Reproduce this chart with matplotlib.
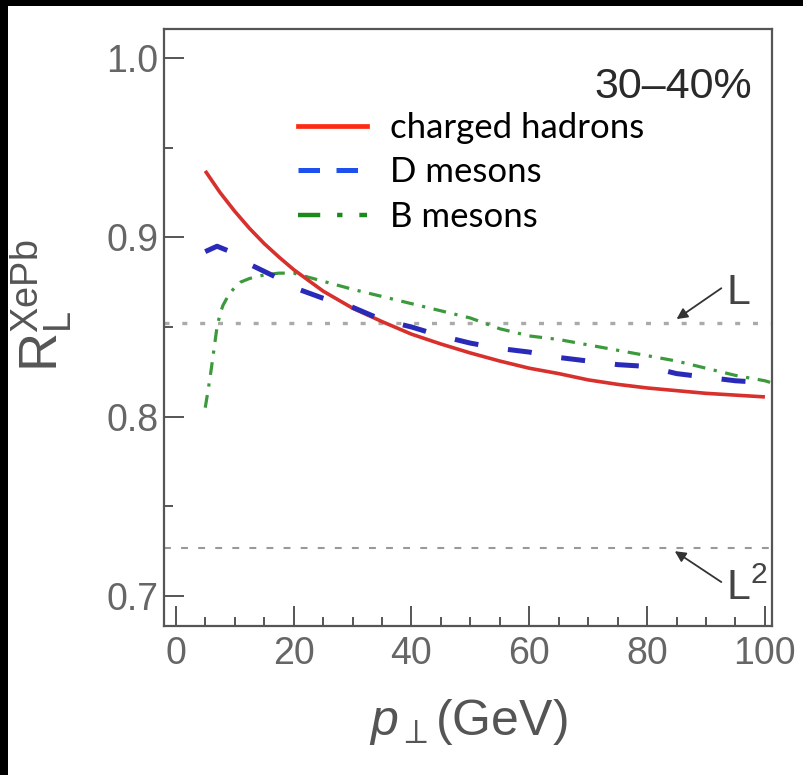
import matplotlib
matplotlib.use("Agg")
import matplotlib.pyplot as plt
from matplotlib.patches import Rectangle
from matplotlib.lines import Line2D

plt.rcParams['font.family'] = ['Liberation Sans', 'DejaVu Sans']
plt.rcParams['mathtext.fontset'] = 'custom'
plt.rcParams['mathtext.rm'] = 'Liberation Sans'
plt.rcParams['mathtext.it'] = 'Liberation Sans:italic'
plt.rcParams['mathtext.bf'] = 'Liberation Sans:bold'

# ---------------- data ----------------
pt_grid = [5, 7.5, 10, 12.5, 15, 17.5, 20, 25, 30, 35, 40, 45, 50, 55, 60,
           65, 70, 75, 80, 85, 90, 95, 100]
r_charged = [0.937, 0.925, 0.9145, 0.905, 0.8965, 0.889, 0.882, 0.870,
             0.8605, 0.853, 0.846, 0.8405, 0.8355, 0.831, 0.827, 0.824,
             0.8205, 0.818, 0.816, 0.8145, 0.813, 0.812, 0.811]

pt_d = [5, 7, 10, 12.5, 15, 17.5, 20, 25, 30, 35, 40, 45, 50, 55, 60, 65,
        70, 75, 80, 85, 90, 95, 100, 101]
r_d = [0.892, 0.895, 0.891, 0.885, 0.881, 0.877, 0.872, 0.866, 0.861, 0.854,
       0.850, 0.845, 0.841, 0.838, 0.836, 0.833, 0.831, 0.829, 0.828, 0.824,
       0.822, 0.820, 0.819, 0.819]

pt_b = [5, 5.5, 6, 6.5, 7, 7.5, 8, 9, 10, 11, 12.5, 15, 17.5, 20, 25, 30, 35,
        40, 45, 50, 55, 60, 65, 70, 75, 80, 85, 90, 95, 100, 101]
r_b = [0.805, 0.815, 0.826, 0.838, 0.850, 0.857, 0.862, 0.868, 0.872, 0.875,
       0.877, 0.879, 0.880, 0.880, 0.8755, 0.871, 0.867, 0.863, 0.859, 0.855,
       0.849, 0.845, 0.843, 0.840, 0.837, 0.834, 0.831, 0.827, 0.823, 0.820,
       0.819]

level_L = 0.852
level_L2 = 0.727

series_labels = ['charged hadrons', 'D mesons', 'B mesons']
centrality = '30–40%'
x_major = [0, 20, 40, 60, 80, 100]
x_minor = [5, 10, 15, 25, 30, 35, 45, 50, 55, 65, 70, 75, 85, 90, 95]
y_major = [0.7, 0.8, 0.9, 1.0]
y_minor = [0.75, 0.85, 0.95]

# ---------------- figure ----------------
W, H = 804, 775
fig = plt.figure(figsize=(W / 100, H / 100), dpi=100, facecolor='black')
fig.add_artist(Rectangle((8 / W, 0), 1, 1 - 6 / H, transform=fig.transFigure,
                         facecolor='white', edgecolor='none', zorder=-5))

ax = fig.add_axes([164 / W, 1 - 626 / H, (772 - 164) / W, (626 - 29) / H])
ax.set_xlim(-2, 101.2)
ax.set_ylim(0.6833, 1.0161)

gray = '#555555'
for s in ax.spines.values():
    s.set_color(gray)
    s.set_linewidth(1.6)

ax.set_xticks(x_major)
ax.set_xticks(x_minor, minor=True)
ax.set_yticks(y_major)
ax.set_yticks(y_minor, minor=True)
ax.set_xticklabels([str(v) for v in x_major])
ax.set_yticklabels(['%.1f' % v for v in y_major])
ax.tick_params(which='both', direction='in', color=gray, width=1.4,
               top=False, right=False)
ax.tick_params(which='major', length=14.5)
ax.tick_params(which='minor', length=6.5)
ax.tick_params(axis='x', which='major', labelsize=27, labelcolor='#666666', pad=7)
ax.tick_params(axis='y', which='major', labelsize=27, labelcolor='#666666', pad=4)

# reference levels
ax.axhline(level_L, color='#aaaaaa', lw=2.4, linestyle=(0, (1.5, 3.85)), zorder=1)
ax.axhline(level_L2, color='#999999', lw=1.5, linestyle=(0, (3.3, 4.9)), zorder=1)

# curves
ax.plot(pt_grid, r_charged, color='#d8302c', lw=2.6, zorder=3,
        solid_capstyle='butt', solid_joinstyle='round')
ax.plot(pt_d, r_d, color='#2a2ab8', lw=3.6, linestyle=(0, (4.8, 6.0)),
        zorder=4)
ax.plot(pt_b, r_b, color='#3c9a3c', lw=2.3,
        linestyle=(0, (4.0, 2.7, 1.0, 2.7)), zorder=2)

# annotations
ax.annotate('', xy=(85.0, 0.8544), xytext=(92.6, 0.8716),
            arrowprops=dict(arrowstyle='-|>', color='#333333', lw=1.3,
                            mutation_scale=16, shrinkA=0, shrinkB=0))
ax.text(93.4, 0.8627, 'L', fontsize=31, color='#444444', ha='left',
        va='baseline')
ax.annotate('', xy=(84.7, 0.725), xytext=(92.6, 0.7078),
            arrowprops=dict(arrowstyle='-|>', color='#333333', lw=1.3,
                            mutation_scale=16, shrinkA=0, shrinkB=0))
ax.text(93.4, 0.698, r'L$^{\mathregular{2}}$', fontsize=31, color='#444444',
        ha='left', va='baseline')

ax.text(97.8, 0.984, centrality, fontsize=31, color='#2a2a2a', ha='right',
        va='center')

# legend
handles = [
    Line2D([], [], color='#ff2a14', lw=3.4),
    Line2D([], [], color='#1e50f0', lw=3.6, linestyle=(0, (4.3, 3.3))),
    Line2D([], [], color='#1a8a1a', lw=3.2,
           linestyle=(0, (5.0, 3.8, 1.2, 3.8))),
]
leg = ax.legend(handles, series_labels, loc='upper left',
                bbox_to_anchor=((298 - 164) / 608, 1 - (112 - 29) / 597),
                frameon=False, prop={'family': 'Lato', 'size': 25},
                handlelength=2.0, handletextpad=0.66, labelspacing=0.36,
                borderaxespad=0, borderpad=0)
for t in leg.get_texts():
    t.set_color('black')

# axis labels
fig.text(468 / W, 1 - 722 / H, r'$p_{\perp}$(GeV)', fontsize=36,
         color='#555555', ha='center', va='center')
fig.text(42 / W, 1 - 306 / H, r'$\mathregular{R_L^{XePb}}$', fontsize=39,
         color='#555555', ha='center', va='center', rotation=90)

fig.savefig('out.png', dpi=100, facecolor=fig.get_facecolor())
